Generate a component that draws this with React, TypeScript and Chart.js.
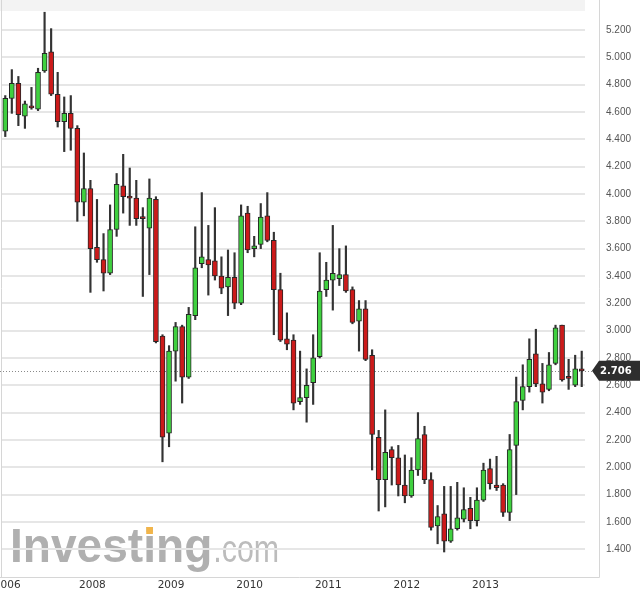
import React, { useEffect, useRef } from 'react';
import { Chart, registerables } from 'chart.js';

Chart.register(...registerables);

// Monthly candles, Dec 2006 .. Apr 2014
const categories: string[] = [
  '2006-12',
  '2007-01', '2007-02', '2007-03', '2007-04', '2007-05', '2007-06', '2007-07', '2007-08', '2007-09', '2007-10', '2007-11', '2007-12',
  '2008-01', '2008-02', '2008-03', '2008-04', '2008-05', '2008-06', '2008-07', '2008-08', '2008-09', '2008-10', '2008-11', '2008-12',
  '2009-01', '2009-02', '2009-03', '2009-04', '2009-05', '2009-06', '2009-07', '2009-08', '2009-09', '2009-10', '2009-11', '2009-12',
  '2010-01', '2010-02', '2010-03', '2010-04', '2010-05', '2010-06', '2010-07', '2010-08', '2010-09', '2010-10', '2010-11', '2010-12',
  '2011-01', '2011-02', '2011-03', '2011-04', '2011-05', '2011-06', '2011-07', '2011-08', '2011-09', '2011-10', '2011-11', '2011-12',
  '2012-01', '2012-02', '2012-03', '2012-04', '2012-05', '2012-06', '2012-07', '2012-08', '2012-09', '2012-10', '2012-11', '2012-12',
  '2013-01', '2013-02', '2013-03', '2013-04', '2013-05', '2013-06', '2013-07', '2013-08', '2013-09', '2013-10', '2013-11', '2013-12',
  '2014-01', '2014-02', '2014-03', '2014-04',
];

const opens: number[] = [
  4.46,
  4.70, 4.81, 4.57, 4.64, 4.62, 4.90, 5.04, 4.73, 4.53, 4.59, 4.48, 3.94,
  4.04, 3.61, 3.52, 3.42, 3.74, 4.06, 3.98, 3.97, 3.83, 3.75, 3.96, 2.96,
  2.25, 2.85, 3.03, 2.66, 3.11, 3.49, 3.52, 3.51, 3.40, 3.32, 3.39, 3.20,
  3.86, 3.60, 3.63, 3.84, 3.66, 3.30, 2.94, 2.93, 2.48, 2.51, 2.62, 2.81,
  3.30, 3.37, 3.38, 3.41, 3.30, 3.07, 3.16, 2.82, 2.22, 1.91, 2.13, 2.07,
  1.87, 1.79, 1.98, 2.24, 1.91, 1.57, 1.66, 1.46, 1.55, 1.62, 1.70, 1.61,
  1.76, 1.99, 1.87, 1.87, 1.67, 2.16, 2.49, 2.59, 2.83, 2.61, 2.57, 2.76,
  3.04, 2.66, 2.60, 2.72,
];

const highs: number[] = [
  4.72,
  4.91, 4.86, 4.68, 4.78, 4.92, 5.33, 5.21, 4.89, 4.71, 4.72, 4.50, 4.30,
  4.10, 3.96, 3.71, 3.92, 4.15, 4.29, 4.19, 4.10, 3.90, 4.11, 3.98, 2.97,
  2.89, 3.06, 3.04, 3.17, 3.76, 4.01, 3.77, 3.90, 3.54, 3.59, 3.57, 3.92,
  3.91, 3.69, 3.93, 4.01, 3.72, 3.42, 3.13, 2.97, 2.85, 2.72, 2.97, 3.57,
  3.50, 3.77, 3.60, 3.62, 3.32, 3.22, 3.22, 2.86, 2.27, 2.42, 2.15, 2.16,
  2.09, 2.07, 2.40, 2.30, 1.96, 1.72, 1.86, 1.86, 1.89, 1.85, 1.78, 1.85,
  2.03, 2.06, 2.08, 1.88, 2.24, 2.66, 2.75, 2.94, 3.01, 2.76, 2.84, 3.04,
  3.04, 2.79, 2.82, 2.85,
];

const lows: number[] = [
  4.42,
  4.59, 4.50, 4.48, 4.62, 4.61, 4.89, 4.72, 4.49, 4.31, 4.32, 3.80, 3.84,
  3.28, 3.50, 3.29, 3.41, 3.69, 3.86, 3.77, 3.77, 3.25, 3.41, 2.91, 2.04,
  2.15, 2.63, 2.47, 2.65, 3.08, 3.46, 3.26, 3.37, 3.27, 3.11, 3.16, 3.19,
  3.57, 3.54, 3.60, 3.65, 2.97, 2.92, 2.86, 2.42, 2.46, 2.33, 2.46, 2.80,
  3.25, 3.15, 3.33, 3.28, 3.05, 2.85, 2.78, 1.98, 1.68, 1.71, 1.87, 1.79,
  1.74, 1.78, 1.94, 1.88, 1.54, 1.44, 1.38, 1.45, 1.54, 1.60, 1.55, 1.57,
  1.75, 1.84, 1.83, 1.64, 1.61, 1.80, 2.42, 2.55, 2.59, 2.47, 2.56, 2.75,
  2.63, 2.57, 2.59, 2.59,
];

const closes: number[] = [
  4.70,
  4.81, 4.58, 4.66, 4.63, 4.89, 5.03, 4.73, 4.53, 4.59, 4.48, 3.94, 4.04,
  3.60, 3.52, 3.42, 3.74, 4.07, 3.98, 3.97, 3.82, 3.82, 3.97, 2.92, 2.22,
  2.85, 3.03, 2.66, 3.12, 3.46, 3.54, 3.48, 3.40, 3.31, 3.39, 3.20, 3.84,
  3.59, 3.62, 3.83, 3.66, 3.30, 2.93, 2.90, 2.47, 2.51, 2.60, 2.80, 3.29,
  3.37, 3.42, 3.41, 3.29, 3.06, 3.16, 2.79, 2.24, 1.91, 2.11, 2.07, 1.87,
  1.79, 1.98, 2.21, 1.91, 1.56, 1.64, 1.46, 1.55, 1.63, 1.69, 1.61, 1.76,
  1.98, 1.88, 1.85, 1.67, 2.13, 2.48, 2.59, 2.79, 2.61, 2.55, 2.75, 3.02,
  2.64, 2.65, 2.72, 2.706,
];

const xTickCategories: string[] = ['2006-12', '2008-01', '2009-01', '2010-01', '2011-01', '2012-01', '2013-01'];
const xTickLabels: string[] = ['2006', '2008', '2009', '2010', '2011', '2012', '2013'];

const yTicks: number[] = [1.4, 1.6, 1.8, 2.0, 2.2, 2.4, 2.6, 2.8, 3.0, 3.2, 3.4, 3.6, 3.8, 4.0, 4.2, 4.4, 4.6, 4.8, 5.0, 5.2];

const GREEN = '#3fd03f';
const RED = '#cc1a1a';

const decorPlugin = {
  id: 'decor',
  beforeDraw(chart: any) {
    const { ctx, chartArea } = chart;
    ctx.save();
    ctx.fillStyle = '#ffffff';
    ctx.fillRect(0, 0, chart.width, chart.height);
    // top band
    ctx.fillStyle = '#f3f3f3';
    ctx.fillRect(0, 0, chartArea.right, chartArea.top);
    // watermark
    ctx.textBaseline = 'alphabetic';
    ctx.textAlign = 'left';
    const sx = 0.96;
    ctx.save();
    ctx.translate(10, 562);
    ctx.scale(sx, 1);
    ctx.font = 'bold 48px "Liberation Sans"';
    ctx.fillStyle = '#b0b0b0';
    ctx.fillText('Investing', 0, 0);
    const invW = ctx.measureText('Investing').width * sx;
    const wInvest = ctx.measureText('Invest').width;
    const wI = ctx.measureText('i').width;
    ctx.fillStyle = '#f2b54a';
    ctx.fillRect(wInvest + wI / 2 - 3.5, -35, 7, 7);
    ctx.restore();
    ctx.save();
    ctx.translate(10 + invW + 1, 562);
    ctx.scale(0.8, 1);
    ctx.font = '38px "Liberation Sans"';
    ctx.fillStyle = '#bcbcbc';
    ctx.fillText('.com', 0, 0);
    ctx.restore();
    // frame lines
    ctx.strokeStyle = '#d6d6d6';
    ctx.lineWidth = 1;
    ctx.beginPath();
    ctx.moveTo(599.5, 0);
    ctx.lineTo(599.5, 577.5);
    ctx.lineTo(0, 577.5);
    ctx.moveTo(1.5, 0);
    ctx.lineTo(1.5, 577);
    ctx.stroke();
    ctx.restore();
  },
  beforeDatasetsDraw(chart: any) {
    const { ctx } = chart;
    const y = Math.round(chart.scales.y.getPixelForValue(closes[closes.length - 1])) + 0.5;
    ctx.save();
    ctx.strokeStyle = '#8a8a8a';
    ctx.lineWidth = 1;
    ctx.setLineDash([1, 2]);
    ctx.beginPath();
    ctx.moveTo(0, y);
    ctx.lineTo(598, y);
    ctx.stroke();
    ctx.restore();
  },
  afterDraw(chart: any) {
    const { ctx } = chart;
    const last = closes[closes.length - 1];
    const y = chart.scales.y.getPixelForValue(last);
    ctx.save();
    ctx.fillStyle = '#2e2e2e';
    ctx.beginPath();
    ctx.moveTo(592, y);
    ctx.lineTo(599, y - 10);
    ctx.lineTo(640, y - 10);
    ctx.lineTo(640, y + 10);
    ctx.lineTo(599, y + 10);
    ctx.closePath();
    ctx.fill();
    ctx.fillStyle = '#ffffff';
    ctx.font = 'bold 10px "DejaVu Sans"';
    ctx.textBaseline = 'middle';
    ctx.textAlign = 'left';
    ctx.fillText(last.toFixed(3), 600, y + 0.5);
    ctx.restore();
  },
};

export default function App() {
  const ref = useRef<HTMLCanvasElement>(null);

  useEffect(() => {
    const canvas = ref.current;
    if (!canvas) return;
    const bodies = categories.map((_, i) => [opens[i], closes[i]]);
    const wicks = categories.map((_, i) => [lows[i], highs[i]]);
    const colors = categories.map((_, i) => (closes[i] >= opens[i] ? GREEN : RED));

    const chart = new Chart(canvas, {
      type: 'bar',
      data: {
        labels: categories,
        datasets: [
          {
            label: 'body',
            data: bodies as any,
            backgroundColor: colors,
            borderColor: '#262626',
            borderWidth: 1,
            borderSkipped: false,
            barThickness: 5,
            minBarLength: 2,
            grouped: false,
            order: 0,
          } as any,
          {
            label: 'wick',
            data: wicks as any,
            backgroundColor: '#333333',
            borderWidth: 0,
            barThickness: 1.5,
            grouped: false,
            order: 1,
          } as any,
        ],
      },
      options: {
        animation: false,
        responsive: false,
        devicePixelRatio: 1,
        layout: { padding: { left: 2, top: 11, right: 0, bottom: 0 } },
        plugins: { legend: { display: false }, tooltip: { enabled: false } },
        scales: {
          x: {
            offset: true,
            grid: { display: false, drawTicks: false },
            border: { display: false },
            ticks: {
              autoSkip: false,
              maxRotation: 0,
              minRotation: 0,
              padding: 2,
              labelOffset: 2,
              color: '#333333',
              font: { family: 'DejaVu Sans', size: 10.5 },
              callback: (_v: any, index: number) => {
                const k = xTickCategories.indexOf(categories[index]);
                return k >= 0 ? xTickLabels[k] : '';
              },
            },
            afterFit: (s: any) => {
              s.height = 17;
              s.paddingLeft = 0;
              s.paddingRight = 0;
            },
          },
          y: {
            position: 'right',
            bounds: 'data',
            min: 1.197,
            max: 5.339,
            afterBuildTicks: (s: any) => {
              s.ticks = yTicks.map((v) => ({ value: v }));
            },
            grid: { color: '#e6e6e6', lineWidth: 2, drawTicks: false },
            border: { display: false },
            ticks: {
              padding: 21,
              color: '#555555',
              font: { family: 'Liberation Sans', size: 10 },
              callback: (v: any) => Number(v).toFixed(3),
            },
            afterFit: (s: any) => {
              s.width = 55;
              s.paddingTop = 0;
              s.paddingBottom = 0;
            },
          },
        },
      } as any,
      plugins: [decorPlugin],
    });

    return () => chart.destroy();
  }, []);

  return (
    <div style={{ position: 'absolute', left: 0, top: 0, width: 640, height: 594, background: '#ffffff' }}>
      <canvas ref={ref} width={640} height={594} style={{ display: 'block', width: 640, height: 594 }} />
    </div>
  );
}
